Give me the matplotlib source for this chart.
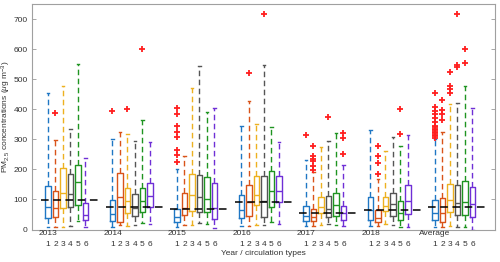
import matplotlib
matplotlib.use("Agg")
import matplotlib.pyplot as plt
from matplotlib.transforms import blended_transform_factory

plt.rcParams['font.family'] = ['Liberation Sans', 'DejaVu Sans']
plt.rcParams['mathtext.fontset'] = 'custom'
plt.rcParams['mathtext.rm'] = 'Liberation Sans'
plt.rcParams['mathtext.it'] = 'Liberation Sans:italic'

# groups and circulation types
groups = ['2013', '2014', '2015', '2016', '2017', '2018', 'Average']
types = ['1', '2', '3', '4', '5', '6']
colors = ['#1f77c4', '#d95319', '#edb120', '#555555', '#1f9421', '#6f2fd6']

# box statistics per group (6 circulation types each), PM2.5 in ug/m3
whislo = [[9, 10, 10, 13, 28, 9],
          [9, 15, 13, 16, 22, 18],
          [9, 15, 15, 22, 18, 4],
          [13, 13, 15, 15, 24, 18],
          [13, 13, 15, 18, 15, 13],
          [13, 13, 18, 15, 9, 9],
          [9, 9, 13, 9, 9, 0]]
q1 = [[37, 43, 70, 76, 82, 32],
      [28, 25, 55, 45, 58, 74],
      [24, 48, 63, 58, 57, 35],
      [38, 45, 82, 43, 74, 90],
      [27, 27, 54, 41, 46, 33],
      [33, 24, 61, 46, 33, 50],
      [30, 26, 57, 48, 49, 41]]
med = [[74, 71, 120, 118, 157, 47],
       [51, 108, 96, 70, 94, 110],
       [41, 72, 115, 107, 101, 70],
       [66, 90, 115, 96, 129, 129],
       [45, 43, 74, 68, 80, 55],
       [64, 38, 77, 84, 55, 95],
       [55, 55, 97, 89, 90, 84]]
q3 = [[144, 127, 205, 185, 216, 89],
      [98, 189, 137, 117, 139, 155],
      [69, 123, 184, 180, 174, 154],
      [115, 149, 177, 177, 194, 177],
      [79, 67, 107, 110, 121, 79],
      [108, 64, 109, 123, 96, 147],
      [97, 105, 151, 147, 162, 140]]
whishi = [[455, 298, 477, 333, 552, 238],
          [302, 326, 318, 296, 366, 290],
          [202, 244, 470, 544, 390, 405],
          [344, 429, 352, 548, 340, 290],
          [231, 190, 274, 295, 322, 215],
          [330, 167, 261, 307, 279, 313],
          [302, 326, 418, 421, 479, 406]]
# outliers: (group index, type index) -> values
fliers = {
    (0, 1): [387],
    (1, 0): [393], (1, 2): [402], (1, 4): [600],
    (2, 0): [405, 385, 346, 326, 307, 263, 249, 226],
    (3, 1): [522], (3, 3): [716],
    (4, 0): [315], (4, 1): [279, 245, 236, 227, 212, 198], (4, 3): [376],
    (4, 5): [320, 305, 253],
    (5, 1): [278, 245, 220, 186], (5, 4): [402, 318],
    (6, 0): [455, 407, 396, 385, 372, 357, 346, 340, 335, 330, 325, 320,
             315, 310, 305],
    (6, 1): [432, 397, 386, 363], (6, 2): [523, 477, 469, 453],
    (6, 3): [717, 546, 540], (6, 4): [601, 554],
}
group_means = [97, 76, 67, 90, 56, 64, 74]

group_step = 8.6
fs = 6

fig = plt.figure(figsize=(5.0, 2.62), dpi=100)
ax = fig.add_axes([0.064, 0.124, 0.926, 0.86])

for g in range(len(groups)):
    for t in range(len(types)):
        pos = g * group_step + t + 1
        stats = [dict(whislo=whislo[g][t], q1=q1[g][t], med=med[g][t],
                      q3=q3[g][t], whishi=whishi[g][t],
                      fliers=fliers.get((g, t), []))]
        c = colors[t]
        ax.bxp(stats, positions=[pos], widths=0.7, capwidths=0.35,
               boxprops=dict(color=c, linewidth=1.0),
               medianprops=dict(color=c, linewidth=1.0),
               whiskerprops=dict(color=c, linewidth=1.0, linestyle=(0, (4, 2.5))),
               capprops=dict(color=c, linewidth=1.0),
               flierprops=dict(marker='+', markeredgecolor='#ff1f1f',
                               markersize=4, markeredgewidth=1.3),
               manage_ticks=False)
    x0 = g * group_step + 1
    ax.hlines(group_means[g], x0 - 0.9, x0 + 5 + 2.0, colors='black',
              linewidth=1.1, linestyles=(0, (5, 3)), zorder=5)

ax.set_xlim(-1.13, 60.6)
ax.set_ylim(0, 750)
ax.set_yticks(range(0, 701, 100))

xt = [g * group_step + t + 1 for g in range(len(groups)) for t in range(len(types))]
ax.set_xticks(xt)
ax.set_xticklabels(types * len(groups))
ax.tick_params(axis='x', length=0, pad=8, labelsize=fs, labelcolor='#333333')
ax.tick_params(axis='y', direction='in', length=3, width=0.6, color='#999999',
               right=True, pad=3, labelsize=fs, labelcolor='#333333')

trans = blended_transform_factory(ax.transData, ax.transAxes)
for g, name in enumerate(groups):
    ax.text(g * group_step + 1, -0.016, name, transform=trans, ha='center',
            va='center', fontsize=fs, color='#333333')

for s in ax.spines.values():
    s.set_color('#a0a0a0')
    s.set_linewidth(0.8)

ax.set_xlabel('Year / circulation types', fontsize=fs, color='#333333', labelpad=2)
ax.set_ylabel(r'PM$_{2.5}$ concentrations ($\mu$g m$^{-3}$)', fontsize=fs,
              color='#333333', va='center')
ax.yaxis.set_label_coords(-0.056, 0.5)

fig.savefig('out.png', dpi=100)
